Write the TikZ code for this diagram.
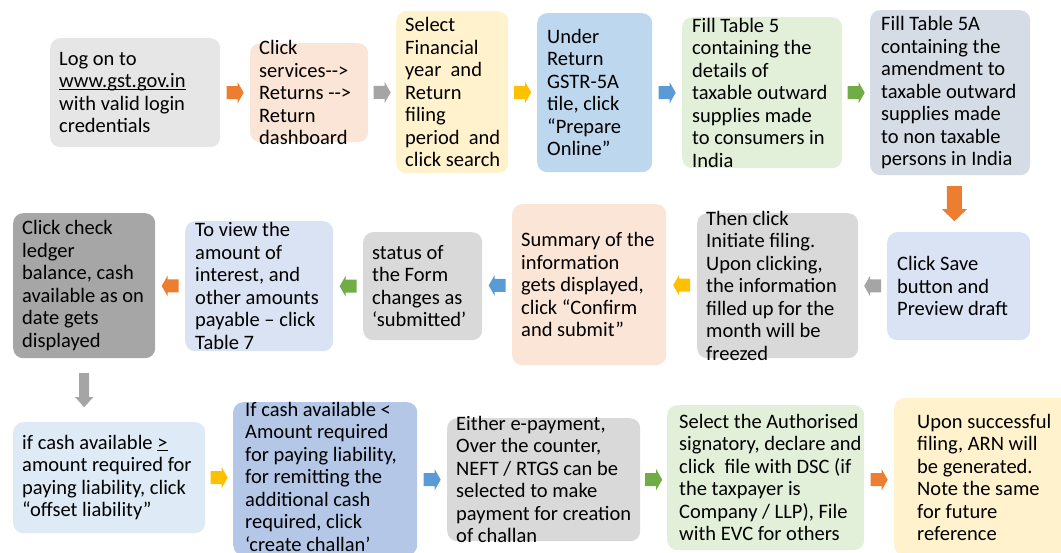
\documentclass[tikz,border=0pt]{standalone}
\usepackage{fontspec}
\setmainfont{Carlito}
\usetikzlibrary{calc}
\definecolor{cgray}{HTML}{E7E6E6}
\definecolor{cpeach}{HTML}{FBE5D6}
\definecolor{cyellow}{HTML}{FFF2CC}
\definecolor{cblue}{HTML}{BDD7EE}
\definecolor{cgreen}{HTML}{E2F0D9}
\definecolor{cslate}{HTML}{D6DCE5}
\definecolor{cpale}{HTML}{DAE3F3}
\definecolor{cmid}{HTML}{D9D9D9}
\definecolor{cdark}{HTML}{A6A6A6}
\definecolor{clight}{HTML}{DEEBF7}
\definecolor{cmblue}{HTML}{B4C7E7}
\definecolor{aorange}{HTML}{ED7D31}
\definecolor{agray}{HTML}{A5A5A5}
\definecolor{ayellow}{HTML}{FFC000}
\definecolor{ablue}{HTML}{5B9BD5}
\definecolor{agreen}{HTML}{70AD47}
\newcommand\mkbox[6]{\node[box, fill=#6, minimum width={#4-#2}, minimum height={#5-#3}] (#1) at (#2,#3) {};}
\newcommand\myul[1]{\setbox0\hbox{#1}\rlap{\rule[-2pt]{\wd0}{1.3pt}}\box0}
\begin{document}
\begin{tikzpicture}[x=1pt,y=-1pt,
  box/.style={rounded corners=10pt, inner sep=0pt, draw=none, anchor=north west},
  txt/.style={align=left, inner sep=0pt, anchor=west, font=\fontsize{20.5}{22.5}\selectfont, text=black},
  pics/harr/.style={code={\fill[#1] (-8.5,-6.5) -- (2.5,-6.5) -- (2.5,-10.5) -- (8.5,0) -- (2.5,10.5) -- (2.5,6.5) -- (-8.5,6.5) -- cycle;}}
]
\useasboundingbox (0,0) rectangle (1061,553);
\clip (0,0) rectangle (1061,553);
% boxes
\mkbox{b1}{50}{38}{220}{147}{cgray}
\mkbox{b2}{250}{43}{368}{142}{cpeach}
\mkbox{b3}{396}{11}{508}{173}{cyellow}
\mkbox{b4}{537}{13}{652}{172}{cblue}
\mkbox{b5}{682}{17}{842}{168}{cgreen}
\mkbox{b6}{870}{10}{1030}{175}{cslate}
\mkbox{b7}{887}{232}{1030}{340}{cpale}
\mkbox{b8}{697}{213}{858}{358}{cmid}
\mkbox{b9}{512}{204}{666}{365}{cpeach}
\mkbox{b10}{363}{232}{482}{340}{cmid}
\mkbox{b11}{185}{221}{333}{351}{cpale}
\mkbox{b12}{13}{213}{155}{358}{cdark}
\mkbox{b13}{13}{422}{205}{533}{clight}
\mkbox{b14}{233}{402}{417}{555}{cmblue}
\mkbox{b15}{447}{418}{640}{541}{cmid}
\mkbox{b16}{667}{405}{864}{550}{cgreen}
\mkbox{b17}{894}{398}{1080}{555}{cyellow}
% texts
\node[txt] (t1) at ($(b1.west)+(9,0)$) {Log on to\\\myul{www.gst.gov.in}\\with valid login\\credentials};
\node[txt] (t2) at ($(b2.west)+(9,0)$) {Click\\services{-}{-}>\\Returns {-}{-}>\\Return\\dashboard};
\node[txt] (t3) at ($(b3.west)+(9,0)$) {Select\\Financial\\year~ and\\Return\\filing\\period~ and\\click search};
\node[txt] (t4) at ($(b4.west)+(10,0)$) {Under\\Return\\GSTR-5A\\tile, click\\“Prepare\\Online”};
\node[txt] (t5) at ($(b5.west)+(10,0)$) {Fill Table 5\\containing the\\details of\\taxable outward\\supplies made\\to consumers in\\India};
\node[txt] (t6) at ($(b6.west)+(11,0)$) {Fill Table 5A\\containing the\\amendment to\\taxable outward\\supplies made\\to non taxable\\persons in India};
\node[txt] (t7) at ($(b7.west)+(10,0)$) {Click Save\\button and\\Preview draft};
\node[txt] (t8) at ($(b8.west)+(9,0)$) {Then click\\Initiate filing.\\Upon clicking,\\the information\\filled up for the\\month will be\\freezed};
\node[txt] (t9) at ($(b9.west)+(9,0)$) {Summary of the\\information\\gets displayed,\\click “Confirm\\and submit”};
\node[txt] (t10) at ($(b10.west)+(9,0)$) {status of\\the Form\\changes as\\‘submitted’};
\node[txt] (t11) at ($(b11.west)+(10,0)$) {To view the\\amount of\\interest, and\\other amounts\\payable – click\\Table 7};
\node[txt] (t12) at ($(b12.west)+(9,0)$) {Click check\\ledger\\balance, cash\\available as on\\date gets\\displayed};
\node[txt] (t13) at ($(b13.west)+(9,0)$) {if cash available \myul{>}\\amount required for\\paying liability, click\\“offset liability”};
\node[txt] (t14) at ($(b14.west)+(12,-2)$) {If cash available <\\Amount required\\for paying liability,\\for remitting the\\additional cash\\required, click\\‘create challan’};
\node[txt] (t15) at ($(b15.west)+(9,0)$) {Either e-payment,\\Over the counter,\\NEFT / RTGS can be\\selected to make\\payment for creation\\of challan};
\node[txt] (t16) at ($(b16.west)+(12,0)$) {Select the Authorised\\signatory, declare and\\click~ file with DSC (if\\the taxpayer is\\Company / LLP), File\\with EVC for others};
\node[txt] (t17) at ($(b17.west)+(23,1)$) {Upon successful\\filing, ARN will\\be generated.\\Note the same\\for future\\reference};
% connectors (block arrows)
\coordinate (a1) at ($(b1.east)!0.5!(b2.west)$);
\coordinate (a2) at ($(b2.east)!0.5!(b3.west)$);
\coordinate (a3) at ($(b3.east)!0.5!(b4.west)$);
\coordinate (a4) at ($(b4.east)!0.5!(b5.west)$);
\coordinate (a5) at ($(b5.east)!0.5!(b6.west)$);
\coordinate (a6) at ($(b6.south)!0.5!(b7.north)$);
\coordinate (a7) at ($(b7.west)!0.5!(b8.east)$);
\coordinate (a8) at ($(b8.west)!0.5!(b9.east)$);
\coordinate (a9) at ($(b9.west)!0.5!(b10.east)$);
\coordinate (a10) at ($(b10.west)!0.5!(b11.east)$);
\coordinate (a11) at ($(b11.west)!0.5!(b12.east)$);
\coordinate (a12) at ($(b12.south)!0.5!(b12.south |- b13.north)$);
\coordinate (a13) at ($(b13.east)!0.5!(b14.west |- b13.east)$);
\coordinate (a14) at ($(b14.east |- b15.west)!0.5!(b15.west)$);
\coordinate (a15) at ($(b15.east)!0.5!(b16.west |- b15.east)$);
\coordinate (a16) at ($(b16.east |- b15.east)!0.5!(b17.west |- b15.east)$);
\pic at (a1) {harr=aorange};
\pic at (a2) {harr=agray};
\pic at (a3) {harr=ayellow};
\pic at (a4) {harr=ablue};
\pic at (a5) {harr=agreen};
\pic[rotate=180] at (a7) {harr=agray};
\pic[rotate=180] at (a8) {harr=ayellow};
\pic[rotate=180] at (a9) {harr=ablue};
\pic[rotate=180] at (a10) {harr=agreen};
\pic[rotate=180] at (a11) {harr=aorange};
\pic at (a13) {harr=ayellow};
\pic at (a14) {harr=ablue};
\pic at (a15) {harr=agreen};
\pic at (a16) {harr=aorange};
\fill[aorange, shift={(a6)}] (-7.5,-17.5) -- (7.5,-17.5) -- (7.5,5.5) -- (12.5,5.5) -- (0,17.5) -- (-12.5,5.5) -- (-7.5,5.5) -- cycle;
\fill[agray, shift={(a12)}] (-5,-17) -- (5,-17) -- (5,7) -- (9,7) -- (0,17) -- (-9,7) -- (-5,7) -- cycle;
\end{tikzpicture}
\end{document}
